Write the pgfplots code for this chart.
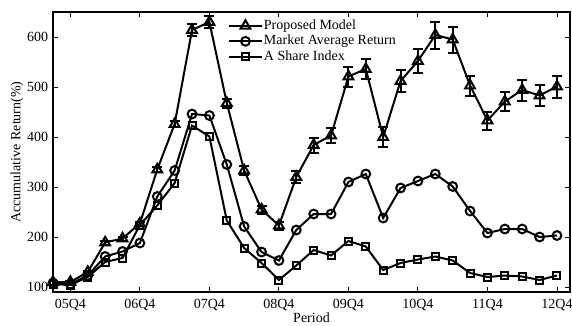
\documentclass[border=0pt]{standalone}
\usepackage{fontspec}
\setmainfont{Liberation Serif}
\usepackage{pgfplots}
\usepackage{pgfplotstable}
\pgfplotsset{compat=1.18}
\pgfplotstableread{
x t te m s
0 110 2 108 106
1 110 2 106 104
2 130 3 123 120
3 189 4 161 150
4 197 4 171 158
5 227 4 188 224
6 335 5 281 263
7 426 6 333 308
8 614 12 446 423
9 630 12 443 401
10 468 9 345 233
11 333 9 221 178
12 255 8 170 148
13 223 8 153 114
14 320 12 214 143
15 384 15 246 174
16 403 15 246 163
17 521 20 310 192
18 536 20 326 181
19 400 20 238 134
20 512 22 298 148
21 552 24 312 155
22 604 27 326 161
23 595 26 301 153
24 503 20 252 128
25 433 18 208 120
26 471 19 216 123
27 494 21 216 121
28 483 21 200 114
29 501 22 203 123
}\data
\begin{document}
\fontsize{14pt}{16pt}\selectfont
\begin{tikzpicture}
\path[use as bounding box] (0,0) rectangle (572pt,325pt);
\begin{axis}[
 at={(53pt,33pt)}, anchor=south west,
 width=517pt, height=280pt, scale only axis,
 xmin=0, xmax=29.75, ymin=90, ymax=650,
 xtick={1,5,...,29},
 xticklabels={05Q4,06Q4,07Q4,08Q4,09Q4,10Q4,11Q4,12Q4},
 ytick={100,200,...,600},
 tick align=inside, major tick length=5pt,
 axis line style={line width=1.1pt},
 tick style={line width=0.9pt, black},
 tick label style={font=\fontsize{14pt}{16pt}\selectfont},
 /pgf/number format/assume math mode=true,
 xticklabel shift=2pt,
 xlabel={Period}, ylabel={Accumulative Return(\%)},
 label style={font=\fontsize{14pt}{16pt}\selectfont},
 xlabel style={at={(axis description cs:0.5,-0.057)}, anchor=north},
 ylabel style={at={(axis description cs:-0.048,0.5)}, anchor=south},
 legend style={draw=none, fill=none, at={(0.338,0.979)}, anchor=north west,
   font=\fontsize{14pt}{16pt}\selectfont, inner sep=0pt, row sep=0pt,
   nodes={inner sep=1pt, text height=10pt, text depth=3.5pt}},
 legend cell align=left,
 legend image code/.code={\draw[mark repeat=2,mark phase=2,#1] plot coordinates {(0pt,0pt) (16.5pt,0pt) (33pt,0pt)};},
 every axis plot/.append style={line width=2pt, black},
]
\addplot[black, line width=2pt, mark=triangle, mark size=5.6pt, mark options={solid, fill=none, line width=2pt},
  error bars/.cd, y dir=both, y explicit, error bar style={line width=2pt},
  error mark options={rotate=90, mark size=5pt, line width=2pt}]
  table[x=x, y=t, y error=te] {\data};
\addlegendentry{Proposed Model}
\addplot[black, line width=2pt, mark=o, mark size=4.4pt, mark options={solid, fill=none, line width=2pt}]
  table[x=x, y=m] {\data};
\addlegendentry{Market Average Return}
\addplot[black, line width=2pt, mark=square, mark size=3.5pt, mark options={solid, fill=none, line width=2pt}]
  table[x=x, y=s] {\data};
\addlegendentry{A Share Index}
\end{axis}
\end{tikzpicture}
\end{document}
